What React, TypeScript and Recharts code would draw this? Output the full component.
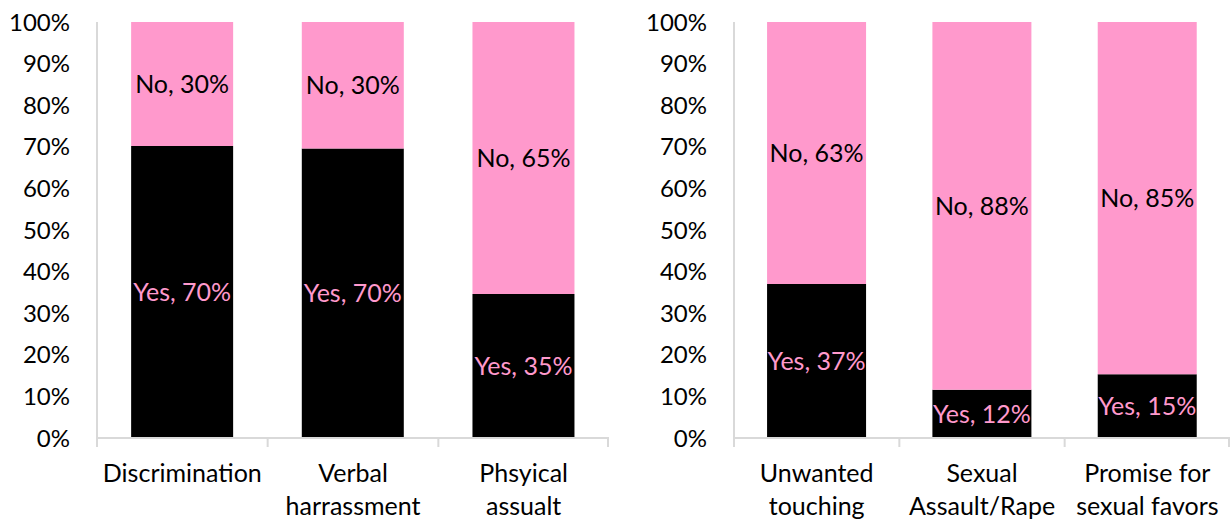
import { BarChart, Bar, XAxis, YAxis, LabelList } from "recharts";

const leftCategories = ["Discrimination", "Verbal\nharrassment", "Phsyical\nassualt"];
const leftYes = [70.2, 69.6, 34.6];
const leftNo = [29.8, 30.4, 65.4];

const rightCategories = ["Unwanted\ntouching", "Sexual\nAssault/Rape", "Promise for\nsexual favors"];
const rightYes = [37, 11.6, 15.3];
const rightNo = [63, 88.4, 84.7];

const yTicks = [0, 10, 20, 30, 40, 50, 60, 70, 80, 90, 100];

const PINK = "#FF99CC";
const AXIS_GRAY = "#D9D9D9";
const FONT = "Lato, 'Open Sans', sans-serif";
const FONT_SIZE = 25;
const TICK_FONT_SIZE = 24;
const CHART_HEIGHT = 523;
const TOP = 22;
const X_AXIS_HEIGHT = 85;

function buildRows(categories: string[], yes: number[], no: number[]) {
  return categories.map((name, i) => ({ name, yes: yes[i], no: no[i] }));
}

function CategoryTick(props: any) {
  const { x, y, payload, index, band, count } = props;
  const lines = String(payload.value).split("\n");
  const half = band / 2;
  return (
    <g>
      <line x1={x - half} x2={x - half} y1={y} y2={y + 9} stroke={AXIS_GRAY} strokeWidth={2} />
      {index === count - 1 && (
        <line x1={x + half - 1} x2={x + half - 1} y1={y} y2={y + 9} stroke={AXIS_GRAY} strokeWidth={2} />
      )}
      <text x={x} y={y} textAnchor="middle" fill="#000" fontSize={FONT_SIZE} fontFamily={FONT}>
        {lines.map((line, i) => (
          <tspan key={i} x={x} y={y + 44 + i * 33}>
            {line}
          </tspan>
        ))}
      </text>
    </g>
  );
}

interface PanelProps {
  categories: string[];
  yes: number[];
  no: number[];
  width: number;
  yAxisWidth: number;
  marginRight: number;
}

function Panel({ categories, yes, no, width, yAxisWidth, marginRight }: PanelProps) {
  const rows = buildRows(categories, yes, no);
  const band = (width - yAxisWidth - marginRight) / categories.length;
  return (
    <BarChart
      width={width}
      height={CHART_HEIGHT}
      data={rows}
      margin={{ top: TOP, right: marginRight, left: 0, bottom: 0 }}
      barCategoryGap="20%"
    >
      <XAxis
        dataKey="name"
        height={X_AXIS_HEIGHT}
        axisLine={{ stroke: AXIS_GRAY, strokeWidth: 2 }}
        tickLine={false}
        tickSize={0}
        tickMargin={0}
        interval={0}
        tick={<CategoryTick band={band} count={categories.length} />}
      />
      <YAxis
        width={yAxisWidth}
        domain={[0, 100]}
        ticks={yTicks}
        interval={0}
        tickFormatter={(v: number) => `${v}%`}
        axisLine={{ stroke: AXIS_GRAY, strokeWidth: 2 }}
        tickLine={false}
        tickSize={0}
        tickMargin={27}
        tick={{ fill: "#000", fontSize: TICK_FONT_SIZE, fontFamily: FONT }}
      />
      <Bar dataKey="yes" stackId="a" fill="#000000" isAnimationActive={false}>
        <LabelList
          dataKey="yes"
          position="center"
          formatter={(v: any) => `Yes, ${Math.round(Number(v))}%`}
          fill={PINK}
          fontSize={FONT_SIZE}
          fontFamily={FONT}
        />
      </Bar>
      <Bar dataKey="no" stackId="a" fill={PINK} isAnimationActive={false}>
        <LabelList
          dataKey="no"
          position="center"
          formatter={(v: any) => `No, ${Math.round(Number(v))}%`}
          fill="#000"
          fontSize={FONT_SIZE}
          fontFamily={FONT}
        />
      </Bar>
    </BarChart>
  );
}

export default function App() {
  return (
    <div
      style={{
        position: "absolute",
        left: 0,
        top: 0,
        width: 1230,
        height: CHART_HEIGHT,
        background: "#fff",
        display: "flex",
      }}
    >
      <Panel
        categories={leftCategories}
        yes={leftYes}
        no={leftNo}
        width={615}
        yAxisWidth={97}
        marginRight={6}
      />
      <Panel
        categories={rightCategories}
        yes={rightYes}
        no={rightNo}
        width={615}
        yAxisWidth={119}
        marginRight={0}
      />
    </div>
  );
}
